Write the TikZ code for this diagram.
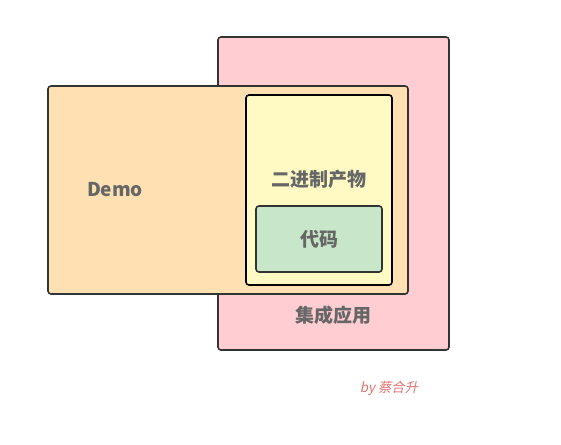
\documentclass[tikz,border=0pt]{standalone}
\usepackage{fontspec}
\setmainfont{Noto Sans CJK SC}
\newfontfamily\signfont[FakeSlant=0.2]{Noto Sans CJK SC}
\usepackage{tikz}
\usetikzlibrary{positioning}
\definecolor{appred}{HTML}{FFCDD2}
\definecolor{demoorange}{HTML}{FFE0B2}
\definecolor{binyellow}{HTML}{FFF9C4}
\definecolor{codegreen}{HTML}{C8E6C9}
\definecolor{labelgray}{HTML}{666666}
\definecolor{signred}{HTML}{E57373}
\definecolor{edgegray}{HTML}{333333}

\begin{document}
\begin{tikzpicture}[x=1pt,y=-1pt,
    box/.style={draw=edgegray,line width=1.6pt,rounded corners=3pt,inner sep=0pt},
    lbl/.style={text=labelgray,font=\fontsize{19}{22}\selectfont\bfseries,inner sep=0pt}]
        \useasboundingbox (0,0) rectangle (561,444);
        % boxes, back to front
        \node[box,fill=appred,minimum width=231pt,minimum height=313pt] (app) at (333.5,193.5) {};
        \node[box,fill=demoorange,minimum width=360pt,minimum height=208pt] (demo) at (228,190) {};
        \node[box,draw=black,fill=binyellow,minimum width=146pt,minimum height=190pt] (bin) at (319,190) {};
        \node[box,fill=codegreen,minimum width=126pt,minimum height=66pt] (code) at (319,239) {};
        % labels
        \node[lbl] (applbl) at (333,315) {集成应用};
        \node[lbl] (demolbl) at (115,190) {Demo};
        \node[lbl] (binlbl) at (319,179) {二进制产物};
        \node[lbl] (codelbl) at (code) {代码};
        \node[text=signred,font=\fontsize{13.4}{16}\selectfont\signfont,inner sep=0pt] (sign) at (389,388) {by 蔡合升};
      \end{tikzpicture}
\end{document}
